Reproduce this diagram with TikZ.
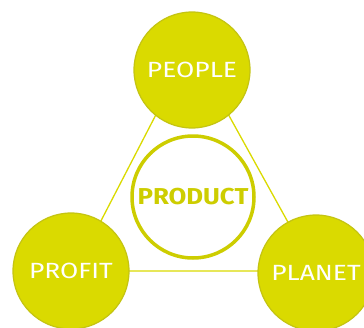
\documentclass[tikz,border=0pt]{standalone}
\usepackage{fontspec}
\setsansfont{Fira Sans}
\usetikzlibrary{backgrounds}

\definecolor{lime}{RGB}{218,218,0}
\definecolor{limeedge}{RGB}{196,196,18}
\definecolor{limetext}{RGB}{205,205,0}

\newcommand{\widetext}[1]{\scalebox{1.2}[1]{#1}}

\tikzset{
  ball/.style={circle,fill=lime,draw=limeedge,line width=1.2pt,minimum size=116pt,inner sep=0pt,
    text=white,font=\sffamily\fontsize{22}{22}\selectfont},
  core/.style={circle,fill=white,draw=limetext,line width=3.5pt,minimum size=122pt,inner sep=0pt,
    text=limetext,font=\sffamily\bfseries\fontsize{23}{23}\selectfont},
  link/.style={draw=lime,line width=1.3pt}
}

\begin{document}
\begin{tikzpicture}[x=1pt,y=-1pt]
                \useasboundingbox (0,0) rectangle (364,327);
                \clip (0,0) rectangle (364,327);
                \coordinate (top) at (191,47);
                \coordinate (left) at (75,271);
                \coordinate (right) at (315,271);
                \node [ball] (people) at (192,70) {\widetext{PEOPLE}};
                \node [ball] (profit) at (71,271) {\widetext{PROFIT}};
                \node [ball] (planet) at (316,273) {\widetext{PLANET}};
                \node [core] (product) at (193,197) {\scalebox{1.12}[1]{PRODUCT}};
                \begin{pgfonlayer}{background}
                \draw [link] (top) -- (left) -- (right) -- cycle;
                \end{pgfonlayer}
            \end{tikzpicture}
\end{document}
